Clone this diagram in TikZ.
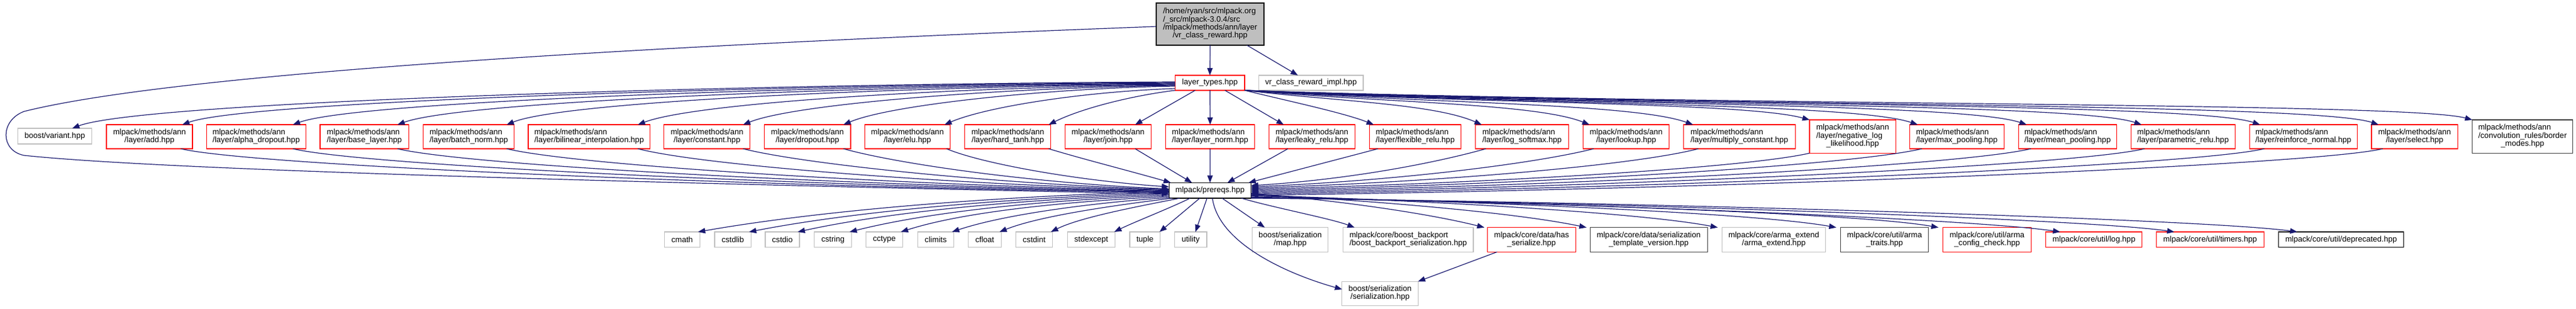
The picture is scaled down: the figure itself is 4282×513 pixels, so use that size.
\documentclass[tikz,border=0pt]{standalone}
\usepackage{fontspec}
\setmainfont{Liberation Sans}
\usetikzlibrary{calc,arrows.meta}
\definecolor{eblue}{HTML}{191970}
\definecolor{nred}{HTML}{FF0000}
\definecolor{ngray}{HTML}{BFBFBF}
\definecolor{ndark}{HTML}{404040}
\newcommand\fs{\fontsize{13.1}{13.3}\selectfont}
\newcommand\twol[2]{\begin{tabular}{@{}l@{}}#1\\\multicolumn{1}{@{}c@{}}{#2}\end{tabular}}
\newcommand\threel[3]{\begin{tabular}{@{}l@{}}#1\\#2\\\multicolumn{1}{@{}c@{}}{#3}\end{tabular}}
\newcommand\fourl[4]{\begin{tabular}{@{}l@{}}#1\\#2\\#3\\\multicolumn{1}{@{}c@{}}{#4}\end{tabular}}
\newcommand\nbox[7]{\node[#6, minimum width={#3-#2}, minimum height={#5-#4}] (#1) at ({(#2+#3)/2},{(#4+#5)/2}) {#7};}
\newcommand\edg[4]{\draw[e] #1 .. controls +(#3) and +(#4) .. #2;}
\newcommand\ml{mlpack/methods/ann}
\tikzset{
  nb/.style={rectangle, inner sep=0pt, outer sep=0pt, font=\fs, text=black, line width=1.1pt},
  rednode/.style={nb, draw=nred},
  graynode/.style={nb, draw=ngray},
  blacknode/.style={nb, draw=black},
  darknode/.style={nb, draw=ndark},
  topnode/.style={nb, draw=black, fill=ngray},
  e/.style={color=eblue, line width=1.2pt, -{Triangle[length=12pt,width=9pt]}},
}
\begin{document}
\begin{tikzpicture}[x=1pt,y=-1pt]
\fill[white] (0,0) rectangle (4282,513);
\useasboundingbox (0,0) rectangle (4282,513);

% nodes
\nbox{top}{1922}{2101}{5}{75}{topnode}{\fourl{/home/ryan/src/mlpack.org}{/\_src/mlpack-3.0.4/src}{/mlpack/methods/ann/layer}{/vr\_class\_reward.hpp}}
\nbox{lt}{1953.3}{2069}{125}{150}{rednode}{layer\_types.hpp}
\nbox{vr}{2092.4}{2266}{125}{150}{graynode}{vr\_class\_reward\_impl.hpp}

\nbox{variant}{29.8}{152.4}{213}{239}{graynode}{boost/variant.hpp}
\nbox{add}{177}{320}{207}{247}{rednode}{\twol{\ml}{/layer/add.hpp}}
\nbox{alpha}{343.4}{508.3}{207}{247}{rednode}{\twol{\ml}{/layer/alpha\_dropout.hpp}}
\nbox{basel}{532}{679.5}{207}{247}{rednode}{\twol{\ml}{/layer/base\_layer.hpp}}
\nbox{batch}{703.7}{854.7}{207}{247}{rednode}{\twol{\ml}{/layer/batch\_norm.hpp}}
\nbox{bil}{878}{1080.6}{207}{247}{rednode}{\twol{\ml}{/layer/bilinear\_interpolation.hpp}}
\nbox{const}{1103.6}{1246.8}{207}{247}{rednode}{\twol{\ml}{/layer/constant.hpp}}
\nbox{drop}{1270.2}{1414}{207}{247}{rednode}{\twol{\ml}{/layer/dropout.hpp}}
\nbox{elu}{1437.2}{1579.5}{207}{247}{rednode}{\twol{\ml}{/layer/elu.hpp}}
\nbox{htanh}{1603.9}{1746.6}{207}{247}{rednode}{\twol{\ml}{/layer/hard\_tanh.hpp}}
\nbox{join}{1770.5}{1913.3}{207}{247}{rednode}{\twol{\ml}{/layer/join.hpp}}
\nbox{lnorm}{1937.6}{2085.5}{207}{247}{rednode}{\twol{\ml}{/layer/layer\_norm.hpp}}
\nbox{leaky}{2109.2}{2252.4}{207}{247}{rednode}{\twol{\ml}{/layer/leaky\_relu.hpp}}
\nbox{flex}{2276.3}{2428.7}{207}{247}{rednode}{\twol{\ml}{/layer/flexible\_relu.hpp}}
\nbox{lsm}{2452.6}{2607.3}{207}{247}{rednode}{\twol{\ml}{/layer/log\_softmax.hpp}}
\nbox{lookup}{2631.7}{2774.5}{207}{247}{rednode}{\twol{\ml}{/layer/lookup.hpp}}
\nbox{mult}{2798.3}{2984.1}{207}{247}{rednode}{\twol{\ml}{/layer/multiply\_constant.hpp}}
\nbox{nll}{3008}{3151.2}{199}{254.3}{rednode}{\threel{\ml}{/layer/negative\_log}{\_likelihood.hpp}}
\nbox{maxp}{3174.2}{3331.2}{207}{247}{rednode}{\twol{\ml}{/layer/max\_pooling.hpp}}
\nbox{meanp}{3355.1}{3518.5}{207}{247}{rednode}{\twol{\ml}{/layer/mean\_pooling.hpp}}
\nbox{prelu}{3542.4}{3715}{207}{247}{rednode}{\twol{\ml}{/layer/parametric\_relu.hpp}}
\nbox{rnorm}{3739.4}{3918}{207}{247}{rednode}{\twol{\ml}{/layer/reinforce\_normal.hpp}}
\nbox{sel}{3941.9}{4085.5}{207}{247}{rednode}{\twol{\ml}{/layer/select.hpp}}
\nbox{border}{4109.5}{4276.6}{199}{254.3}{darknode}{\threel{\ml}{/convolution\_rules/border}{\_modes.hpp}}

\nbox{pre}{1943.2}{2079.5}{303.3}{329}{blacknode}{mlpack/prereqs.hpp}

\nbox{cmath}{1104.5}{1163.3}{385}{410.7}{graynode}{cmath}
\nbox{cstdlib}{1188}{1248.2}{385}{410.7}{graynode}{cstdlib}
\nbox{cstdio}{1272}{1329}{385}{410.7}{graynode}{cstdio}
\nbox{cstring}{1353.8}{1415.3}{385}{410.7}{graynode}{cstring}
\nbox{cctype}{1439.5}{1500.5}{385}{410.7}{graynode}{cctype}
\nbox{climits}{1525.3}{1585.5}{385}{410.7}{graynode}{climits}
\nbox{cfloat}{1609.4}{1664.5}{385}{410.7}{graynode}{cfloat}
\nbox{cstdint}{1688.3}{1749.9}{385}{410.7}{graynode}{cstdint}
\nbox{stdexc}{1774.6}{1853.2}{385}{410.7}{graynode}{stdexcept}
\nbox{tuple}{1878}{1928.5}{385}{410.7}{graynode}{tuple}
\nbox{utility}{1952.3}{2006}{385}{410.7}{graynode}{utility}
\nbox{map}{2081.4}{2207.9}{377.7}{418.3}{graynode}{\twol{boost/serialization}{/map.hpp}}
\nbox{backport}{2232.7}{2449}{377.7}{418.3}{graynode}{\twol{mlpack/core/boost\_backport}{/boost\_backport\_serialization.hpp}}
\nbox{has}{2472.4}{2619.3}{377.7}{418.3}{rednode}{\twol{mlpack/core/data/has}{\_serialize.hpp}}
\nbox{tv}{2643.2}{2838.1}{377.7}{418.3}{darknode}{\twol{mlpack/core/data/serialization}{\_template\_version.hpp}}
\nbox{ae}{2862.4}{3034.6}{377.7}{418.3}{graynode}{\twol{mlpack/core/arma\_extend}{/arma\_extend.hpp}}
\nbox{atr}{3059.4}{3205.9}{377.7}{418.3}{darknode}{\twol{mlpack/core/util/arma}{\_traits.hpp}}
\nbox{acc}{3229.3}{3376.7}{377.7}{418.3}{rednode}{\twol{mlpack/core/util/arma}{\_config\_check.hpp}}
\nbox{logn}{3400.6}{3560.8}{385}{410.7}{rednode}{mlpack/core/util/log.hpp}
\nbox{timers}{3584.3}{3763.3}{385}{410.7}{rednode}{mlpack/core/util/timers.hpp}
\nbox{dep}{3787.8}{3995.3}{385}{410.7}{blacknode}{mlpack/core/util/deprecated.hpp}
\nbox{ser}{2230.9}{2357.1}{467.3}{507.3}{graynode}{\twol{boost/serialization}{/serialization.hpp}}

% top edges
\draw[e] (top.south) -- (lt.north);
\draw[e] ($(top.south east)+(-28.4,0)$) -- ($(vr.north)+(-21.8,0)$);
\draw[e] ($(top.west)+(0,4)$) .. controls (1100,75) and (300,120) .. (40,185)
  .. controls (0,200) and (0,250) .. (40,258)
  .. controls (250,280) and (900,300) .. ($(pre.west)+(0,6)$);

% layer_types -> row 3
\edg{($(lt.west)+(0,-1.5)$)}{($(variant.north)+(29,0)$)}{-700,3}{120,-45}
\edg{($(lt.west)+(0,-0.5)$)}{($(add.north)+(54.5,0)$)}{-630,3}{110,-40}
\edg{($(lt.west)+(0,0.5)$)}{($(alpha.north)+(61,0)$)}{-560,3}{110,-40}
\edg{($(lt.west)+(0,1.5)$)}{($(basel.north)+(55,0)$)}{-490,3}{110,-40}
\edg{($(lt.west)+(0,2.5)$)}{($(batch.north)+(63,0)$)}{-420,3}{100,-40}
\edg{($(lt.west)+(0,3.5)$)}{($(bil.north)+(81,0)$)}{-340,3}{100,-38}
\edg{($(lt.west)+(0,4.5)$)}{($(const.north)+(60,0)$)}{-270,3}{90,-36}
\edg{($(lt.west)+(0,5.5)$)}{($(drop.north)+(60,0)$)}{-200,3}{80,-34}
\edg{($(lt.south west)+(0,-3)$)}{($(elu.north)+(61.6,0)$)}{-150,5}{70,-30}
\edg{(lt.south west)}{($(htanh.north)+(68,0)$)}{-80,10}{50,-25}
\draw[e] ($(lt.south)+(-24.5,0)$) -- ($(join.north)+(45,0)$);
\draw[e] (lt.south) -- (lnorm.north);
\draw[e] ($(lt.south)+(25,0)$) -- ($(leaky.north)+(-47,0)$);
\edg{(lt.south east)}{($(flex.north)+(-69,0)$)}{60,15}{-50,-20}
\edg{(lt.south east)}{($(lsm.north)+(-67,0)$)}{150,18}{-80,-35}
\edg{(lt.south east)}{($(lookup.north)+(-61,0)$)}{220,20}{-90,-36}
\edg{(lt.south east)}{($(mult.north)+(-77,0)$)}{290,21}{-100,-36}
\edg{(lt.south east)}{(nll.north west)}{360,22}{-110,-30}
\edg{(lt.south east)}{($(maxp.north)+(-65,0)$)}{430,23}{-110,-37}
\edg{(lt.south east)}{($(meanp.north)+(-68,0)$)}{500,24}{-110,-37}
\edg{(lt.south east)}{($(prelu.north)+(-69,0)$)}{570,25}{-110,-37}
\edg{(lt.south east)}{($(rnorm.north)+(-72,0)$)}{640,25}{-110,-37}
\edg{(lt.south east)}{($(sel.north)+(-60,0)$)}{720,26}{-110,-37}
\edg{(lt.south east)}{(border.north west)}{780,26}{-110,-30}

% row 3 -> prereqs
\edg{($(add.south)+(52,0)$)}{($(pre.west)+(0,3.5)$)}{120,28}{-690,-10}
\edg{($(alpha.south)+(61,0)$)}{($(pre.west)+(0,2.5)$)}{120,28}{-610,-10}
\edg{($(basel.south)+(55,0)$)}{($(pre.west)+(0,1.5)$)}{120,28}{-540,-10}
\edg{($(batch.south)+(63,0)$)}{($(pre.west)+(0,0.5)$)}{120,28}{-460,-10}
\edg{($(bil.south)+(81,0)$)}{($(pre.west)+(0,-0.5)$)}{110,28}{-370,-10}
\edg{($(const.south)+(60,0)$)}{($(pre.west)+(0,-1.5)$)}{100,25}{-300,-10}
\edg{($(drop.south)+(60,0)$)}{($(pre.west)+(0,-2.5)$)}{90,25}{-230,-10}
\edg{($(elu.south)+(65,0)$)}{($(pre.west)+(0,-6)$)}{60,25}{-150,-10}
\edg{($(htanh.south)+(68,0)$)}{($(pre.north west)+(3,0)$)}{60,18}{-70,-20}
\draw[e] ($(join.south)+(45,0)$) -- ($(pre.north)+(-30,0)$);
\draw[e] (lnorm.south) -- (pre.north);
\draw[e] ($(leaky.south)+(-40,0)$) -- ($(pre.north)+(29,0)$);
\draw[e] ($(flex.south)+(-62,0)$) -- ($(pre.north east)+(-4,0)$);
\edg{($(lsm.south)+(-60,0)$)}{($(pre.east)+(0,-8)$)}{-90,25}{160,-10}
\edg{($(lookup.south)+(-54,0)$)}{($(pre.east)+(0,-6)$)}{-100,25}{240,-10}
\edg{($(mult.south)+(-68,0)$)}{($(pre.east)+(0,-4)$)}{-110,28}{310,-10}
\edg{(nll.south west)}{($(pre.east)+(0,-2)$)}{-110,25}{390,-10}
\edg{($(maxp.south)+(-58,0)$)}{(pre.east)}{-120,28}{470,-10}
\edg{($(meanp.south)+(-61,0)$)}{($(pre.east)+(0,2)$)}{-120,28}{545,-10}
\edg{($(prelu.south)+(-64,0)$)}{($(pre.east)+(0,4)$)}{-120,28}{620,-10}
\edg{($(rnorm.south)+(-65,0)$)}{($(pre.east)+(0,6)$)}{-120,28}{710,-10}
\edg{($(sel.south)+(-53,0)$)}{($(pre.east)+(0,8)$)}{-120,28}{790,-10}

% prereqs -> row 5
\edg{($(pre.south west)+(0,-11)$)}{($(cmath.north east)+(-3,0)$)}{-300,8}{200,-35}
\edg{($(pre.south west)+(0,-9)$)}{($(cstdlib.north east)+(-3,0)$)}{-260,8}{180,-35}
\edg{($(pre.south west)+(0,-7)$)}{($(cstdio.north east)+(-3,0)$)}{-230,8}{160,-35}
\edg{($(pre.south west)+(0,-5)$)}{($(cstring.north east)+(-3,0)$)}{-200,8}{140,-35}
\edg{($(pre.south west)+(0,-3)$)}{($(cctype.north east)+(-3,0)$)}{-160,8}{110,-35}
\edg{($(pre.south west)+(0,-1)$)}{($(climits.north east)+(-3,0)$)}{-120,8}{90,-30}
\edg{($(pre.south west)+(5,0)$)}{($(cfloat.north east)+(-3,0)$)}{-80,10}{70,-28}
\edg{($(pre.south)+(-50,0)$)}{($(cstdint.north east)+(-3,0)$)}{-60,12}{50,-25}
\edg{($(pre.south)+(-33,0)$)}{($(stdexc.north east)+(-1,0)$)}{-30,15}{30,-15}
\draw[e] ($(pre.south)+(-17,0)$) -- ($(tuple.north east)+(-1,0)$);
\draw[e] ($(pre.south)+(-5,0)$) -- ($(utility.north)+(8,0)$);
\edg{($(pre.south)+(4,0)$)}{($(ser.west)+(0,-7)$)}{10,75}{-90,-25}
\draw[e] ($(pre.south)+(20,0)$) -- ($(map.north west)+(21,0)$);
\edg{($(pre.south east)+(-16,0)$)}{($(backport.north west)+(19,0)$)}{50,15}{-40,-15}
\edg{($(pre.east)+(0,5)$)}{($(has.north west)+(-5,0)$)}{130,10}{-100,-25}
\edg{($(pre.east)+(0,6.5)$)}{($(tv.north west)+(-6,0)$)}{200,10}{-120,-25}
\edg{($(pre.east)+(0,8)$)}{($(ae.north west)+(-7,0)$)}{280,8}{-130,-25}
\edg{($(pre.east)+(0,9.5)$)}{($(atr.north west)+(-7,0)$)}{350,8}{-140,-25}
\edg{($(pre.east)+(0,11)$)}{($(acc.north west)+(-7,0)$)}{410,8}{-140,-25}
\edg{($(pre.east)+(0,12)$)}{($(logn.north west)+(24,0)$)}{480,6}{-150,-22}
\edg{($(pre.east)+(0,12.5)$)}{($(timers.north west)+(30,0)$)}{550,6}{-150,-22}
\edg{($(pre.east)+(0,12.8)$)}{($(dep.north west)+(31,0)$)}{620,6}{-160,-22}
\draw[e] ($(has.south west)+(16,0)$) -- ($(ser.north east)+(0,0)$);
\end{tikzpicture}
\end{document}
